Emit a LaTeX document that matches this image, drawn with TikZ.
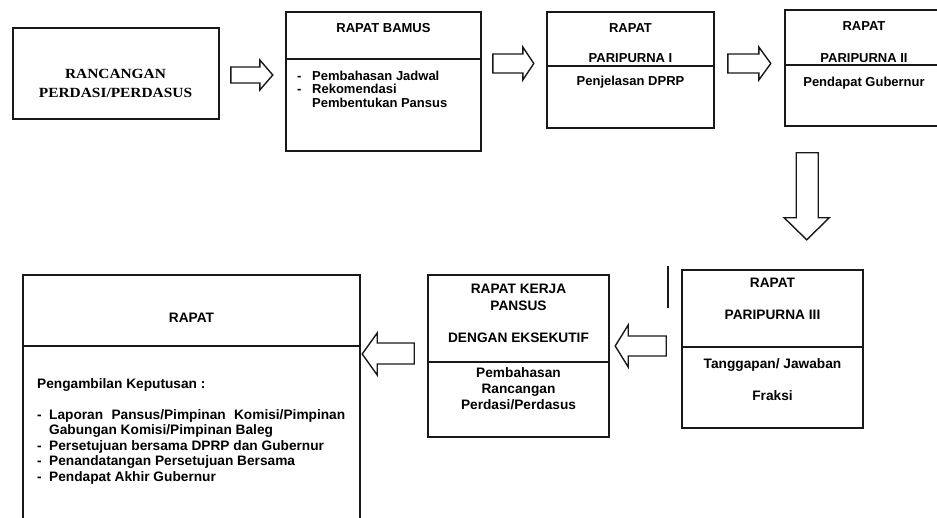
\documentclass[tikz,border=0pt]{standalone}
\usepackage{fontspec}
\setmainfont{Liberation Sans}
\newfontfamily\titleserif[FakeStretch=1.1]{Liberation Serif}
\usetikzlibrary{calc}

\begin{document}
\begin{tikzpicture}[x=1pt, y=-1pt,
    box/.style={rectangle, draw=black!90, line width=1.6pt, inner sep=0pt},
    divider/.style={draw=black!90, line width=1.6pt},
    txt/.style={inner sep=0pt, align=center, anchor=north, font=\bfseries\fontsize{13}{15}\selectfont},
    txtbig/.style={txt, font=\bfseries\fontsize{13.7}{16}\selectfont},
    blockarr/.style={draw=black!90, line width=1.4pt, fill=white, line join=miter}
]
\clip (0,0) rectangle (937,518);
\fill[white] (0,0) rectangle (937,518);

% boxes
\node[box, minimum width=206, minimum height=91] (rancangan) at (116,73.5) {};
\node[box, minimum width=195, minimum height=139] (bamus) at (383.5,81.5) {};
\node[box, minimum width=167, minimum height=116] (pari1) at (630.5,70) {};
\node[box, minimum width=158, minimum height=116] (pari2) at (864,68) {};
\node[box, minimum width=181, minimum height=158] (pari3) at (772.5,349) {};
\node[box, minimum width=181, minimum height=162] (kerja) at (518.5,356) {};
\node[box, minimum width=337, minimum height=265] (rapat) at (191.5,407.5) {};

% dividers
\draw[divider] ([yshift=-48pt]bamus.north west) -- ([yshift=-48pt]bamus.north east);
\draw[divider] ([yshift=-55pt]pari1.north west) -- ([yshift=-55pt]pari1.north east);
\draw[divider] ([yshift=-56pt]pari2.north west) -- ([yshift=-56pt]pari2.north east);
\draw[divider] ([yshift=-78pt]pari3.north west) -- ([yshift=-78pt]pari3.north east);
\draw[divider] ([yshift=-88pt]kerja.north west) -- ([yshift=-88pt]kerja.north east);
\draw[divider] ([yshift=-72pt]rapat.north west) -- ([yshift=-72pt]rapat.north east);
\draw[divider] ([xshift=-13pt, yshift=3pt]pari3.north west) -- ++(0,42);

% texts
\node[inner sep=0pt, align=center, anchor=north, font=\titleserif\bfseries\fontsize{14}{19}\selectfont] (judul) at (115.5,69) {RANCANGAN\\PERDASI/PERDASUS};

\node[txt] (bamusjudul) at (383.5,23.3) {RAPAT BAMUS};
\node[txt, anchor=north west, align=left, font=\bfseries\fontsize{13}{13.7}\selectfont] (bamusisi) at (297,70.5)
  {\makebox[15pt][l]{-}Pembahasan Jadwal\\\makebox[15pt][l]{-}Rekomendasi\\\makebox[15pt][l]{}Pembentukan Pansus};

\node[txt] (pari1a) at (630.5,23.3) {RAPAT};
\node[txt] (pari1b) at (630.5,53.8) {PARIPURNA I};
\node[txt] (pari1c) at (630.5,75.5) {Penjelasan DPRP};

\node[txt] (pari2a) at (864,21.5) {RAPAT};
\node[txt] (pari2b) at (864,53) {PARIPURNA II};
\node[txt] (pari2c) at (864,76.5) {Pendapat Gubernur};

\node[txtbig] (pari3a) at (772.5,278.3) {RAPAT};
\node[txtbig] (pari3b) at (772.5,310.3) {PARIPURNA III};
\node[txtbig] (pari3c) at (772.5,358.3) {Tanggapan/ Jawaban};
\node[txtbig] (pari3d) at (772.5,390.3) {Fraksi};

\node[txtbig, font=\bfseries\fontsize{13.7}{17}\selectfont] (kerjaa) at (518.5,284.3) {RAPAT KERJA\\PANSUS};
\node[txtbig] (kerjab) at (518.5,332.3) {DENGAN EKSEKUTIF};
\node[txtbig] (kerjac) at (518.5,367.3) {Pembahasan\\Rancangan\\Perdasi/Perdasus};

\node[txtbig] (rapatjudul) at (191.5,313.3) {RAPAT};
\node[txtbig, anchor=north west, align=left, font=\bfseries\fontsize{13.7}{15.5}\selectfont] (keputusan) at (37,378.3)
  {Pengambilan Keputusan :\\[15.5pt]
   \makebox[12pt][l]{-}\makebox[296pt][s]{Laporan Pansus/Pimpinan Komisi/Pimpinan}\\
   \makebox[12pt][l]{}Gabungan Komisi/Pimpinan Baleg\\
   \makebox[12pt][l]{-}Persetujuan bersama DPRP dan Gubernur\\
   \makebox[12pt][l]{-}Penandatangan Persetujuan Bersama\\
   \makebox[12pt][l]{-}Pendapat Akhir Gubernur};

% block arrows
\draw[blockarr] ([xshift=11pt, yshift=6.5pt]rancangan.east) -- ++(29,0) -- ++(0,-7) -- ++(13,15) -- ++(-13,15) -- ++(0,-7) -- ++(-29,0) -- cycle;
\draw[blockarr] ([xshift=11pt, yshift=27.5pt]bamus.east) -- ++(30,0) -- ++(0,-7) -- ++(11,16.5) -- ++(-11,16.5) -- ++(0,-7) -- ++(-30,0) -- cycle;
\draw[blockarr] ([xshift=13pt, yshift=16pt]pari1.east) -- ++(31,0) -- ++(0,-7) -- ++(12,16.5) -- ++(-12,16.5) -- ++(0,-7) -- ++(-31,0) -- cycle;
\draw[blockarr] ([xshift=12pt, yshift=-26pt]pari2.south west) -- ++(22,0) -- ++(0,65) -- ++(11,0) -- ++(-22.5,22) -- ++(-22.5,-22) -- ++(12,0) -- cycle;
\draw[blockarr] ([xshift=-15pt, yshift=13pt]pari3.west) -- ++(0,20) -- ++(-38,0) -- ++(0,11) -- ++(-13,-21) -- ++(13,-21) -- ++(0,11) -- cycle;
\draw[blockarr] ([xshift=-13pt, yshift=13pt]kerja.west) -- ++(0,21) -- ++(-37,0) -- ++(0,11) -- ++(-15,-21) -- ++(15,-21) -- ++(0,10) -- cycle;
\end{tikzpicture}
\end{document}
